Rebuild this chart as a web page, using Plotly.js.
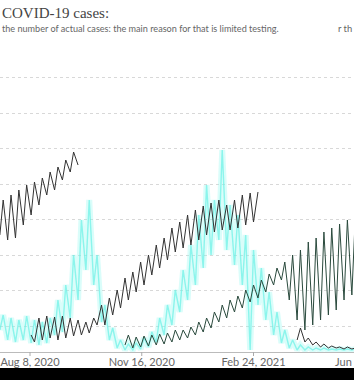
<!DOCTYPE html>
<html>
<head>
<meta charset="utf-8">
<script src="https://cdn.plot.ly/plotly-3.0.1.min.js"></script>
<style>
html,body{margin:0;padding:0;background:#000;}
#chart{width:354px;height:368px;background:#fff;}
</style>
</head>
<body>
<div id="chart"></div>
<script>
// Dates (twice weekly samples)
const dates = [
"2020-07-12","2020-07-15","2020-07-19","2020-07-22","2020-07-26","2020-07-29",
"2020-08-02","2020-08-05","2020-08-09","2020-08-12","2020-08-16","2020-08-19","2020-08-23","2020-08-26","2020-08-30",
"2020-09-02","2020-09-06","2020-09-09","2020-09-13","2020-09-16","2020-09-20","2020-09-23","2020-09-27","2020-09-30",
"2020-10-04","2020-10-07","2020-10-11","2020-10-14","2020-10-18","2020-10-21","2020-10-25","2020-10-28",
"2020-11-01","2020-11-04","2020-11-08","2020-11-11","2020-11-15","2020-11-18","2020-11-22","2020-11-25","2020-11-29",
"2020-12-02","2020-12-06","2020-12-09","2020-12-13","2020-12-16","2020-12-20","2020-12-23","2020-12-27","2020-12-30",
"2021-01-03","2021-01-06","2021-01-10","2021-01-13","2021-01-17","2021-01-20","2021-01-24","2021-01-27","2021-01-31",
"2021-02-03","2021-02-07","2021-02-10","2021-02-14","2021-02-17","2021-02-21","2021-02-24","2021-02-28",
"2021-03-03","2021-03-07","2021-03-10","2021-03-14","2021-03-17","2021-03-21","2021-03-24","2021-03-28","2021-03-31",
"2021-04-04","2021-04-07","2021-04-11","2021-04-14","2021-04-18","2021-04-21","2021-04-25","2021-04-28",
"2021-05-02","2021-05-05","2021-05-09","2021-05-12","2021-05-16","2021-05-19","2021-05-23","2021-05-26"
];

// Cyan series
const cyanCases = [
2200,3700,1200,3400,1000,3200,
1200,3600,900,3200,700,3000,900,3400,1700,
5200,2000,6700,3400,9700,5200,13200,8200,15200,
6700,9700,3000,4700,1200,2400,400,1200,
200,800,200,900,300,1400,500,2000,1000,
3400,1700,4700,2700,6200,4000,8200,5200,10700,
6700,13700,8400,16700,9700,15200,11200,20200,10200,
14700,8700,13700,6700,11700,200,10200,4700,
8400,3200,6000,1700,4000,900,2200,400,1200,
200,700,200,500,200,400,200,400,
200,300,200,300,200,300,200,300
];

// Dark series A (main oscillating line)
const darkA = [
null,null,null,null,null,null,
null,null,1700,1000,3400,1200,3600,1400,3500,
1200,3600,1400,3400,1600,3200,1700,3000,1900,
3400,2700,4700,2700,5400,3700,6200,4400,
7400,5200,8000,6000,9000,6700,9700,7700,10700,
8400,11400,9200,12400,10000,13000,10400,13700,10700,
14200,11200,14600,11700,14900,12000,15200,12200,14700,
12200,15200,12400,15700,12700,15900,13000,16000,
null,null,null,null,null,null,null,null,null,
null,null,null,null,null,null,null,null,
null,null,null,null,null,null,null,null
];

// Dark series B (later rising line)
const darkB = [
null,null,null,null,null,null,
null,null,null,null,null,null,null,null,null,
null,null,null,null,null,null,null,null,null,
null,null,null,null,null,null,null,null,
700,1700,400,1500,500,1600,600,1700,700,
1800,800,1900,1000,2200,1200,2200,1400,2500,
1700,3000,2000,3400,2400,4000,3000,4700,3400,
5200,4000,5600,4400,6200,5000,6700,5400,
7200,6000,7800,6700,8400,7200,9000,5200,9700,
3200,10200,2200,11000,2700,11400,3200,12000,
3700,12400,4200,12800,5200,13200,5700,13400
];

// Dark series C (early high spikes)
const darkC = [
11700,15200,11200,15700,11400,16200,
12700,16700,13700,17000,14700,17400,15700,18000,16200,
18500,17200,19200,18000,20000,18700,null,null,null,
null,null,null,null,null,null,null,null,
null,null,null,null,null,null,null,null,null,
null,null,null,null,null,null,null,null,null,
null,null,null,null,null,null,null,null,null,
null,null,null,null,null,null,null,null,
null,null,null,null,null,null,null,null,null,
null,null,null,null,null,null,null,null,
null,null,null,null,null,null,null,null
];

// Dark series E (late low line)
const darkE = [
null,null,null,null,null,null,
null,null,null,null,null,null,null,null,null,
null,null,null,null,null,null,null,null,null,
null,null,null,null,null,null,null,null,
null,null,null,null,null,null,null,null,null,
null,null,null,null,null,null,null,null,null,
null,null,null,null,null,null,null,null,null,
null,null,null,null,null,null,null,null,
null,null,null,null,null,null,null,null,null,
1200,2400,1000,1400,700,1000,500,800,
400,600,400,500,300,500,300,400
];

const tickDates = ["2020-08-08","2020-11-16","2021-02-24"];
const tickLabels = ["Aug 8, 2020","Nov 16, 2020","Feb 24, 2021"];
const edgeLabel = "Jun";
const titleText = "COVID-19 cases:";
const subtitleText = "the number of actual cases: the main reason for that is limited testing.";
const sideText = "r th";

const traces = [
  {x: dates, y: cyanCases, mode: "lines", line: {color: "rgba(150,248,240,0.35)", width: 6}, hoverinfo: "skip"},
  {x: dates, y: cyanCases, mode: "lines", line: {color: "rgba(105,241,230,0.7)", width: 1.4}, hoverinfo: "skip"},
  {x: dates, y: darkC, mode: "lines", line: {color: "#333", width: 1}, connectgaps: false},
  {x: dates, y: darkA, mode: "lines", line: {color: "#333", width: 1}, connectgaps: false},
  {x: dates, y: darkB, mode: "lines", line: {color: "#2a4a3d", width: 1}, connectgaps: false},
  {x: dates, y: darkE, mode: "lines", line: {color: "#333", width: 1}, connectgaps: false}
];

const tickShapes = tickDates.map(d => ({
  type: "line", xref: "x", yref: "paper", x0: d, x1: d, y0: 0, y1: -4/292,
  line: {color: "#aaa", width: 1}
}));

const layout = {
  width: 354, height: 368,
  margin: {l: 0, r: 0, t: 60, b: 16},
  paper_bgcolor: "#fff", plot_bgcolor: "#fff",
  showlegend: false,
  xaxis: {
    type: "date",
    range: ["2020-07-12 03:36", "2021-05-24 22:00"],
    tickmode: "array",
    tickvals: tickDates,
    ticktext: tickLabels,
    ticks: "",
    showline: true, linecolor: "#bbb", linewidth: 1,
    showgrid: false, zeroline: false,
    tickfont: {family: "Lato", size: 11, color: "#666"}
  },
  yaxis: {
    range: [0, 29200],
    tick0: 2600, dtick: 3550,
    showgrid: true, gridcolor: "#d8d8d8", griddash: "dot", gridwidth: 1,
    showticklabels: false, zeroline: false, ticks: ""
  },
  shapes: tickShapes,
  annotations: [
    {text: titleText, xref: "paper", yref: "paper", x: 0, y: (352-13)/292, xanchor: "left", yanchor: "middle", showarrow: false,
     font: {family: "Liberation Serif", size: 15, color: "#444"}},
    {text: subtitleText, xref: "paper", yref: "paper", x: 0, y: (352-28.5)/292, xanchor: "left", yanchor: "middle", showarrow: false,
     font: {family: "Lato", size: 9.1, color: "#666"}},
    {text: sideText, xref: "paper", yref: "paper", x: 336/354, y: (352-28.5)/292, xanchor: "left", yanchor: "middle", showarrow: false,
     font: {family: "Lato", size: 9.4, color: "#666"}},
    {text: edgeLabel, xref: "paper", yref: "paper", x: 1, y: (352-361)/292, xanchor: "right", yanchor: "middle", showarrow: false,
     font: {family: "Lato", size: 11, color: "#666"}}
  ]
};

Plotly.newPlot("chart", traces, layout, {staticPlot: true, displayModeBar: false});
</script>
</body>
</html>
